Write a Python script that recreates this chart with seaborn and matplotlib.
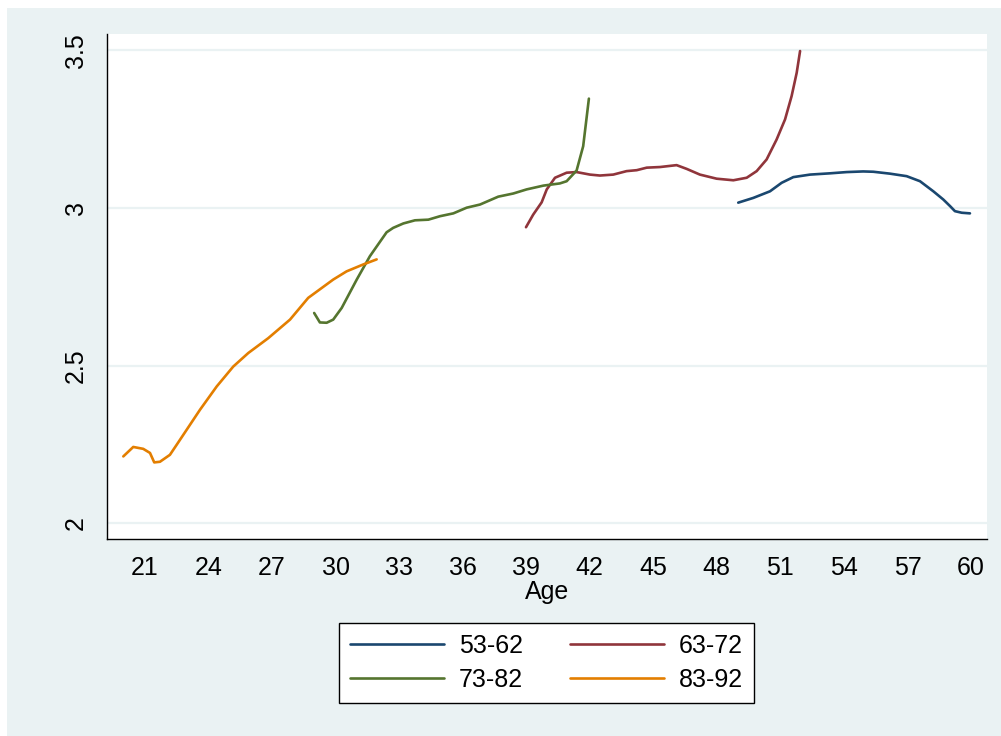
import matplotlib
matplotlib.use("Agg")
import matplotlib.pyplot as plt
from matplotlib.patches import Rectangle
import seaborn as sns
import pandas as pd

# cohort 53-62
age_53 = [49.01, 49.72, 50.51, 51.06, 51.61, 52.40, 53.34, 54.13, 54.91, 55.39,
          56.17, 56.96, 57.59, 58.22, 58.69, 59.01, 59.24, 59.56, 59.95]
val_53 = [3.017, 3.032, 3.053, 3.080, 3.098, 3.106, 3.110, 3.114, 3.116, 3.115,
          3.109, 3.101, 3.085, 3.053, 3.027, 3.006, 2.990, 2.985, 2.983]

# cohort 63-72
age_63 = [38.99, 39.33, 39.73, 39.97, 40.36, 40.91, 41.38, 42.01, 42.48, 43.11,
          43.74, 44.22, 44.69, 45.32, 46.10, 46.58, 47.20, 47.99, 48.78, 49.41,
          49.88, 50.35, 50.82, 51.22, 51.53, 51.77, 51.93]
val_63 = [2.939, 2.979, 3.018, 3.059, 3.096, 3.112, 3.114, 3.106, 3.103, 3.106,
          3.117, 3.120, 3.128, 3.130, 3.136, 3.124, 3.106, 3.093, 3.088, 3.096,
          3.117, 3.154, 3.217, 3.281, 3.355, 3.429, 3.498]

# cohort 73-82
age_73 = [28.99, 29.26, 29.58, 29.89, 30.29, 31.00, 31.62, 32.41, 32.72, 33.20,
          33.75, 34.38, 34.93, 35.56, 36.19, 36.82, 37.68, 38.39, 39.02, 39.81,
          40.59, 40.91, 41.38, 41.69, 41.96]
val_73 = [2.667, 2.637, 2.636, 2.646, 2.683, 2.773, 2.847, 2.923, 2.937, 2.951,
          2.961, 2.963, 2.974, 2.983, 3.001, 3.011, 3.036, 3.046, 3.059, 3.071,
          3.078, 3.085, 3.119, 3.196, 3.347]

# cohort 83-92
age_83 = [19.98, 20.45, 20.92, 21.24, 21.44, 21.71, 22.18, 22.50, 23.60, 24.39,
          25.17, 25.88, 26.82, 27.85, 28.71, 29.89, 30.52, 31.31, 31.94]
val_83 = [2.212, 2.242, 2.236, 2.223, 2.193, 2.195, 2.217, 2.249, 2.360, 2.434,
          2.497, 2.540, 2.587, 2.646, 2.715, 2.773, 2.799, 2.821, 2.837]

cohorts = ["53-62", "63-72", "73-82", "83-92"]
colors = ["#1A476F", "#90353B", "#55752F", "#E37E00"]
x_ticks = list(range(21, 61, 3))
y_ticks = [2, 2.5, 3, 3.5]
y_labels = ["2", "2.5", "3", "3.5"]

frames = []
for name, a, v in zip(cohorts, [age_53, age_63, age_73, age_83],
                      [val_53, val_63, val_73, val_83]):
    frames.append(pd.DataFrame({"Age": a, "value": v, "cohort": name}))
df = pd.concat(frames, ignore_index=True)

sns.set_style("white")
plt.rcParams["font.family"] = ["Liberation Sans", "DejaVu Sans"]
plt.rcParams["text.color"] = "black"
plt.rcParams["xtick.color"] = "black"
plt.rcParams["ytick.color"] = "black"
plt.rcParams["axes.labelcolor"] = "black"

fs = 18
bg = "#EAF2F3"
fig = plt.figure(figsize=(10.01, 7.36), dpi=100)
fig.patch.set_facecolor("white")
fig.patches.append(Rectangle((7 / 1001, 0), 1 - 7 / 1001, 1 - 8 / 736,
                             transform=fig.transFigure, facecolor=bg,
                             edgecolor="none", zorder=-10))

ax = fig.add_axes([107 / 1001, 1 - 539 / 736, 879.7 / 1001, 505 / 736])
ax.set_facecolor("white")

sns.lineplot(data=df, x="Age", y="value", hue="cohort", hue_order=cohorts,
             palette=dict(zip(cohorts, colors)), estimator=None, sort=False,
             linewidth=1.9, ax=ax, legend=False)

ax.set_xlim(19.21, 60.74)
ax.set_ylim(1.950, 3.552)
ax.set_xticks(x_ticks)
ax.set_yticks(y_ticks)
ax.set_yticklabels(y_labels, rotation=90, va="center")
ax.yaxis.grid(True, color=bg, linewidth=1.6)
ax.xaxis.grid(False)
ax.set_axisbelow(True)

for side in ["top", "right"]:
    ax.spines[side].set_visible(False)
for side in ["left", "bottom"]:
    ax.spines[side].set_color("black")
    ax.spines[side].set_linewidth(1.0)

ax.tick_params(axis="both", direction="out", length=6.5, width=0.9,
               color="black", labelcolor="black", labelsize=fs, pad=6)
ax.tick_params(axis="y", pad=7)
ax.set_xlabel("Age", fontsize=fs, labelpad=0, color="black")
ax.set_ylabel("")

# legend fills column-wise, so order handles to match two rows
order = [0, 2, 1, 3]
handles = [plt.Line2D([], [], color=colors[i], linewidth=1.9) for i in order]
labels = [cohorts[i] for i in order]
leg = fig.legend(handles, labels, ncol=2, loc="center",
                 bbox_to_anchor=(546.5 / 1001, 1 - 663 / 736),
                 fontsize=fs, frameon=True, fancybox=False, framealpha=1,
                 handlelength=3.75, handletextpad=0.6, columnspacing=1.9,
                 labelspacing=0.4, borderpad=0.45)
leg.get_frame().set_edgecolor("black")
leg.get_frame().set_linewidth(1.0)
leg.get_frame().set_facecolor("white")

fig.savefig("out.png", dpi=100, facecolor=fig.get_facecolor())
